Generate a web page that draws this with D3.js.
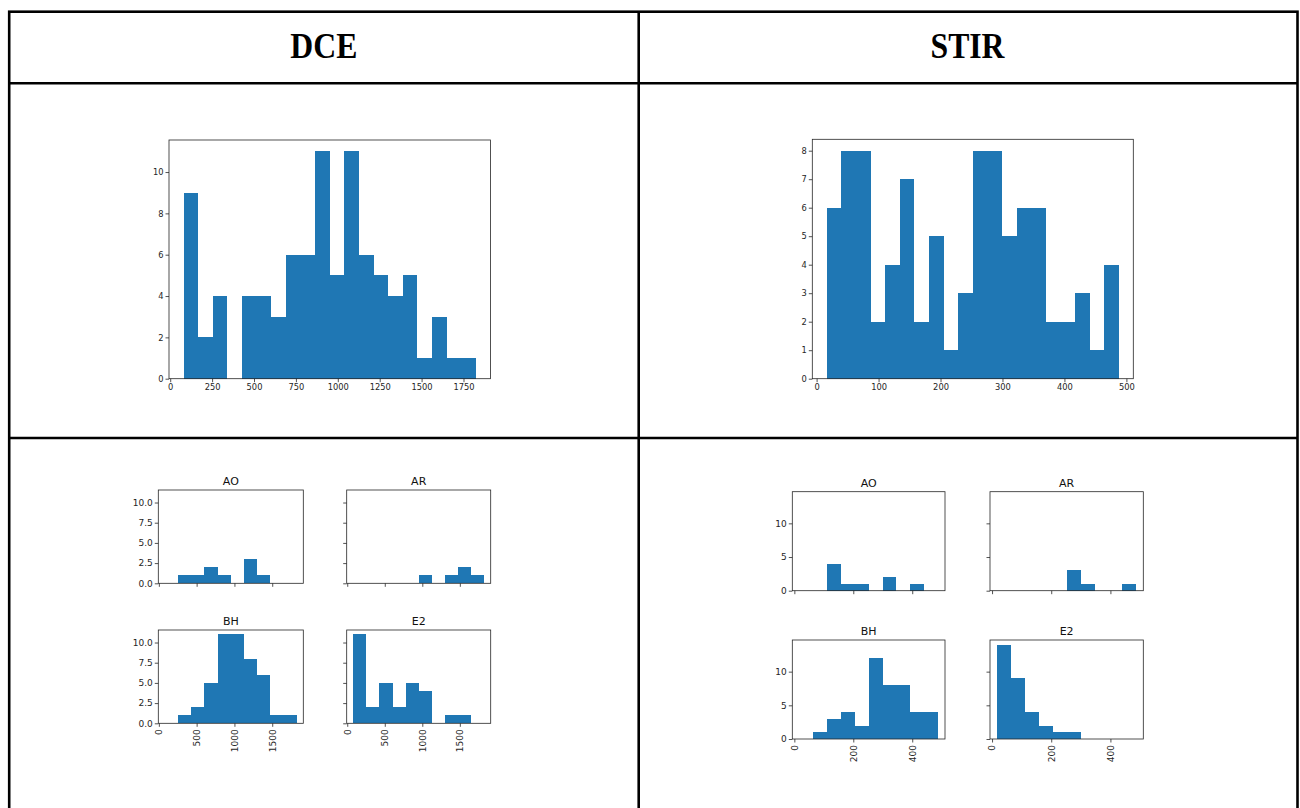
<!DOCTYPE html>
<html><head><meta charset="utf-8">
<script src="https://cdn.jsdelivr.net/npm/d3@7"></script>
<style>body{margin:0;background:#fff} svg text{font-family:"DejaVu Sans",sans-serif}</style>
</head><body>
<svg id="c" width="1300" height="808"></svg>
<script>
// ---------- DATA ----------
const headers = ["DCE", "STIR"];
const groups = ["AO", "AR", "BH", "E2"];

// DCE: overall histogram (20 bins) and per-group histograms (10 shared bins)
const dceRange = [80, 1824];
const dceAll = [9, 2, 4, 0, 4, 4, 3, 6, 6, 11, 5, 11, 6, 5, 4, 5, 1, 3, 1, 1];
const dceAO = [0, 1, 1, 2, 1, 0, 3, 1, 0, 0];
const dceAR = [0, 0, 0, 0, 0, 1, 0, 1, 2, 1];
const dceBH = [0, 1, 2, 5, 11, 11, 8, 6, 1, 1];
const dceE2 = [11, 2, 5, 2, 5, 4, 0, 1, 1, 0];
const dceTopXTicks = [0, 250, 500, 750, 1000, 1250, 1500, 1750];
const dceTopYTicks = [0, 2, 4, 6, 8, 10];
const dceSubXTicks = [0, 500, 1000, 1500];
const dceSubYTicks = [0, 2.5, 5, 7.5, 10];

// STIR
const stirRange = [16.6, 487.6];
const stirAll = [6, 8, 8, 2, 4, 7, 2, 5, 1, 3, 8, 8, 5, 6, 6, 2, 2, 3, 1, 4];
const stirAO = [0, 0, 4, 1, 1, 0, 2, 0, 1, 0];
const stirAR = [0, 0, 0, 0, 0, 3, 1, 0, 0, 1];
const stirBH = [0, 1, 3, 4, 2, 12, 8, 8, 4, 4];
const stirE2 = [14, 9, 4, 2, 1, 1, 0, 0, 0, 0];
const stirTopXTicks = [0, 100, 200, 300, 400, 500];
const stirTopYTicks = [0, 1, 2, 3, 4, 5, 6, 7, 8];
const stirSubXTicks = [0, 200, 400];
const stirSubYTicks = [0, 5, 10];

// ---------- DRAW ----------
const svg = d3.select("#c");
const BAR = "#1f77b4", INK = "#262626";

function pad(r) { const m = (r[1] - r[0]) * 0.05; return [r[0] - m, r[1] + m]; }

function hist(o) {
  const g = svg.append("g");
  const x = d3.scaleLinear().domain(pad(o.range)).range([o.box[0], o.box[1]]);
  const y = d3.scaleLinear().domain([0, o.ymax * 1.05]).range([o.box[3], o.box[2]]);
  const n = o.counts.length;
  const edges = d3.range(n + 1).map(i => o.range[0] + (o.range[1] - o.range[0]) * i / n);
  const bins = o.counts.map((c, i) => ({ c, a: edges[i], b: edges[i + 1] })).filter(d => d.c > 0);
  g.selectAll("rect.bar").data(bins).join("rect").attr("class", "bar")
    .attr("x", d => x(d.a)).attr("width", d => x(d.b) - x(d.a))
    .attr("y", d => y(d.c)).attr("height", d => y(0) - y(d.c))
    .attr("fill", BAR).attr("shape-rendering", "crispEdges");

  const xa = d3.axisBottom(x).tickValues(o.xTicks).tickSize(3.5).tickPadding(2)
    .tickFormat(o.showX ? d3.format("d") : () => "");
  const gx = g.append("g").attr("transform", `translate(0,${o.box[3]})`).call(xa);
  const ya = d3.axisLeft(y).tickValues(o.yTicks).tickSize(3.5).tickPadding(2)
    .tickFormat(o.showY ? (o.yFmt || d3.format("d")) : () => "");
  const gy = g.append("g").attr("transform", `translate(${o.box[0]},0)`).call(ya);
  [gx, gy].forEach(a => {
    a.select(".domain").remove();
    a.selectAll("line").attr("stroke", INK).attr("stroke-width", 0.8);
    a.selectAll("text").attr("fill", INK).style("font-size", o.fs + "px");
  });
  if (o.rotX) {
    gx.selectAll("text").attr("transform", "rotate(-90)")
      .attr("x", -6).attr("y", 0).attr("dy", "0.32em").attr("text-anchor", "end");
  }
  g.append("rect").attr("x", o.box[0]).attr("y", o.box[2])
    .attr("width", o.box[1] - o.box[0]).attr("height", o.box[3] - o.box[2])
    .attr("fill", "none").attr("stroke", INK).attr("stroke-width", 0.8);
  if (o.title) {
    g.append("text").attr("x", (o.box[0] + o.box[1]) / 2).attr("y", o.box[2] - 5)
      .attr("text-anchor", "middle").attr("fill", "#111").style("font-size", "11px").text(o.title);
  }
}

// Top histograms
hist({ counts: dceAll, range: dceRange, ymax: 11, box: [169, 490.5, 140, 378.7],
  xTicks: dceTopXTicks, yTicks: dceTopYTicks, showX: true, showY: true, fs: 8.3 });
hist({ counts: stirAll, range: stirRange, ymax: 8, box: [812.3, 1133.3, 139.3, 378.7],
  xTicks: stirTopXTicks, yTicks: stirTopYTicks, showX: true, showY: true, fs: 8.3 });

// DCE per-group
const dceSets = [dceAO, dceAR, dceBH, dceE2];
const dceCols = [[158.3, 303.3], [346.7, 490.7]];
const dceRows = [[490, 583.3], [630, 723.3]];
const dceYmax = d3.max(dceSets.flat());
groups.forEach((name, i) => {
  const c = i % 2, r = Math.floor(i / 2);
  hist({ counts: dceSets[i], range: dceRange, ymax: dceYmax,
    box: [dceCols[c][0], dceCols[c][1], dceRows[r][0], dceRows[r][1]],
    xTicks: dceSubXTicks, yTicks: dceSubYTicks, showX: r === 1, showY: c === 0,
    yFmt: d3.format(".1f"), rotX: true, fs: 9, title: name });
});

// STIR per-group
const stirSets = [stirAO, stirAR, stirBH, stirE2];
const stirCols = [[792.3, 945], [990, 1143.3]];
const stirRows = [[491.7, 590.7], [640, 739]];
const stirYmax = d3.max(stirSets.flat());
groups.forEach((name, i) => {
  const c = i % 2, r = Math.floor(i / 2);
  hist({ counts: stirSets[i], range: stirRange, ymax: stirYmax,
    box: [stirCols[c][0], stirCols[c][1], stirRows[r][0], stirRows[r][1]],
    xTicks: stirSubXTicks, yTicks: stirSubYTicks, showX: r === 1, showY: c === 0,
    rotX: true, fs: 9, title: name });
});

// Table frame
const T = svg.append("g").attr("stroke", "#000").attr("stroke-width", 2.6).attr("fill", "none");
T.append("rect").attr("x", 9.2).attr("y", 11.7).attr("width", 1288.3).attr("height", 820);
T.append("line").attr("x1", 638.7).attr("x2", 638.7).attr("y1", 11.7).attr("y2", 820);
T.append("line").attr("x1", 9.2).attr("x2", 1297.5).attr("y1", 83.2).attr("y2", 83.2);
T.append("line").attr("x1", 9.2).attr("x2", 1297.5).attr("y1", 438).attr("y2", 438);

// Headers
const hx = [323.8, 967.5], hw = [67, 74];
headers.forEach((h, i) => {
  svg.append("text").attr("x", hx[i]).attr("y", 57.5).attr("text-anchor", "middle")
    .attr("textLength", hw[i]).attr("lengthAdjust", "spacingAndGlyphs")
    .style("font-family", "'Liberation Serif','Times New Roman',serif")
    .style("font-weight", "bold").style("font-size", "36px").attr("fill", "#000").text(h);
});
</script>
</body></html>
